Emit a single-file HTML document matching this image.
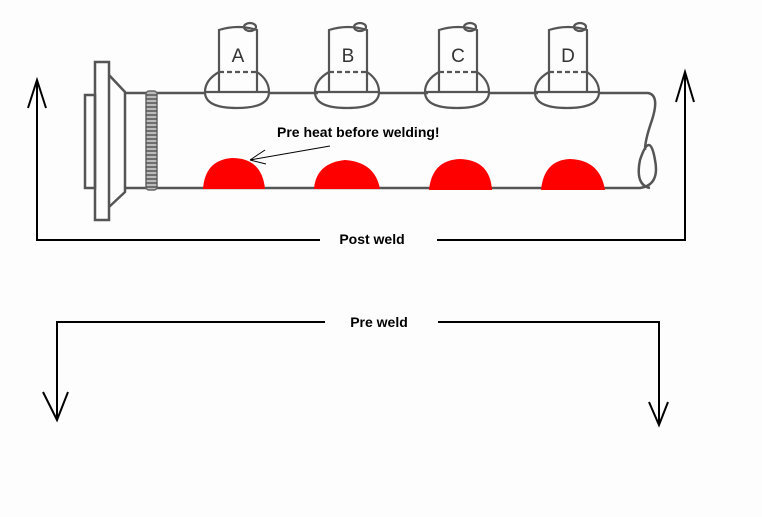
<!DOCTYPE html>
<html><head><style>html,body{margin:0;padding:0;background:#fff;}svg{display:block}</style></head>
<body>
<svg width="762" height="517" viewBox="0 0 762 517" xmlns="http://www.w3.org/2000/svg" font-family="Liberation Sans, sans-serif">
<rect width="762" height="517" fill="#fdfdfd"/>
<g stroke="#555" stroke-width="2.5" fill="none">
<rect x="85" y="95" width="10" height="93"/>
<rect x="95" y="62" width="14" height="158"/>
<path d="M109 75 L125 92 L125 192 L109 207"/>
<path d="M125 93 L205 93 M268 93 L318 93 M378 93 L428 93 M488 93 L538 93 M598 93 L648 93 Q660 95 652 120 Q645 140 645 150"/>
<path d="M125 188 L640 188 Q660 185 655 160 Q650 130 640 160 Q635 185 650 188"/>
</g>
<rect x="146" y="91" width="11" height="99" rx="3" fill="#bbb" stroke="#666" stroke-width="1.5"/>
<path d="M146 95 H157 M146 99 H157 M146 103 H157 M146 107 H157 M146 111 H157 M146 115 H157 M146 119 H157 M146 123 H157 M146 127 H157 M146 131 H157 M146 135 H157 M146 139 H157 M146 143 H157 M146 147 H157 M146 151 H157 M146 155 H157 M146 159 H157 M146 163 H157 M146 167 H157 M146 171 H157 M146 175 H157 M146 179 H157 M146 183 H157 M146 187 H157" stroke="#555" stroke-width="1.5"/>
<g stroke="#555" stroke-width="2.2" fill="none">
<g id="n">
<path d="M219 92 L219 30 Q238 24 257 30 L257 92"/>
<ellipse cx="250" cy="27" rx="6" ry="4"/>
<path d="M219 72 Q205 80 205 92 L269 92 Q269 80 257 72"/>
<path d="M219 72 L257 72" stroke-dasharray="5 3"/>
<path d="M205 93 Q206 108 237 108 Q268 108 269 93"/>
</g>
<use href="#n" x="110"/><use href="#n" x="220"/><use href="#n" x="330"/>
</g>
<g font-size="19" fill="#333" text-anchor="middle"><text x="238" y="62">A</text><text x="348" y="62">B</text><text x="458" y="62">C</text><text x="568" y="62">D</text></g>
<g fill="#ff0000">
<path d="M203 189 Q205 160 232 158 Q262 158 265 189Z"/>
<path d="M314 189 Q316 163 345 160 Q375 162 380 189Z"/>
<path d="M429 190 Q432 160 460 159 Q490 160 492 190Z"/>
<path d="M541 190 Q544 160 570 159 Q600 160 605 190Z"/>
</g>
<text x="277" y="137" font-size="14" font-weight="bold" fill="#000">Pre heat before welding!</text>
<g stroke="#000" stroke-width="1" fill="none"><path d="M330 146 L250 160 M250 160 L265 150 M250 160 L266 164"/></g>
<g stroke="#000" stroke-width="2" fill="none">
<path d="M37 80 L37 240 L320 240 M437 240 L685 240 L685 72"/>
<path d="M28 108 L37 80 L46 108 M676 102 L685 72 L694 102"/>
<path d="M57 420 L57 322 L325 322 M438 322 L659 322 L659 425"/>
<path d="M43 392 L57 420 L68 392 M649 402 L659 425 L668 402"/>
</g>
<text x="372" y="244" font-size="14" font-weight="bold" text-anchor="middle">Post weld</text>
<text x="379" y="327" font-size="14" font-weight="bold" text-anchor="middle">Pre weld</text>
</svg>
</body></html>
